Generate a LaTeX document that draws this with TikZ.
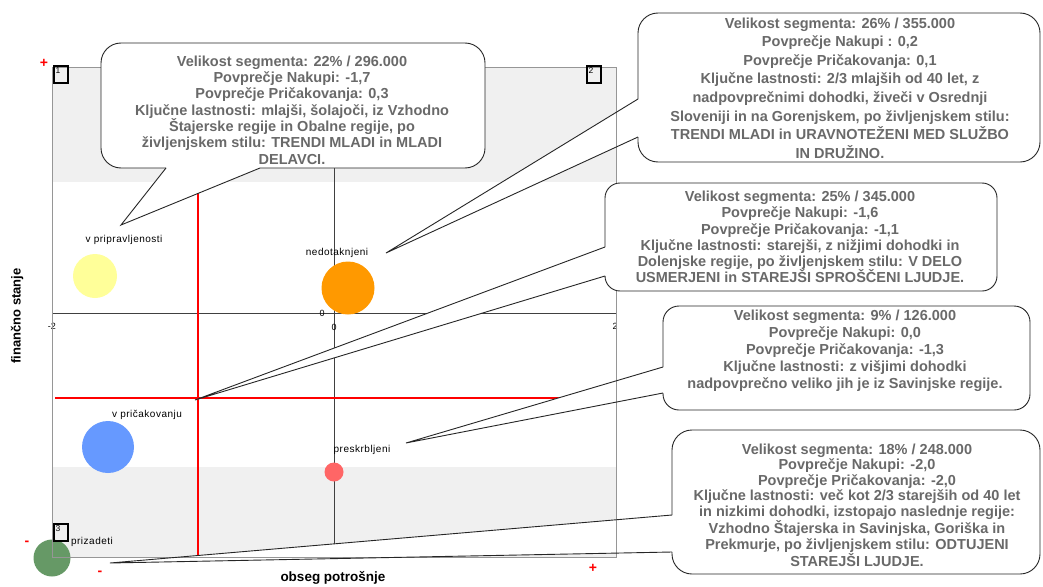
\documentclass[tikz,border=0pt]{standalone}
\usepackage{fontspec}
\setmainfont{Liberation Sans}
\newfontfamily\lblfont[LetterSpace=5]{Liberation Sans}
\definecolor{txtgray}{RGB}{105,105,105}
\definecolor{bandgray}{RGB}{240,240,240}
\definecolor{framegray}{RGB}{150,150,150}
\definecolor{cyel}{RGB}{255,255,153}
\definecolor{corg}{RGB}{255,153,0}
\definecolor{cblu}{RGB}{102,153,255}
\definecolor{cred}{RGB}{255,102,102}
\definecolor{cgrn}{RGB}{102,153,102}
\begin{document}
\begin{tikzpicture}[x=1pt,y=-1pt,
  cobody/.style={draw=black!85, line width=0.9pt},
  cotext/.style={text=txtgray, font=\bfseries\fontsize{14.5}{16.3}\selectfont, align=center, inner sep=0pt},
  lbl/.style={font=\lblfont\fontsize{10}{11}\selectfont, inner sep=0pt},
  ticklbl/.style={font=\fontsize{9}{9}\selectfont, inner sep=0pt},
  axtitle/.style={font=\bfseries\fontsize{13.5}{14}\selectfont, inner sep=0pt},
  sgn/.style={text=red, font=\bfseries\fontsize{14}{14}\selectfont, inner sep=0pt},
  numbox/.style={draw=black, line width=1.6pt, minimum width=14pt, minimum height=17pt, inner sep=0pt, anchor=north west},
  numtxt/.style={font=\fontsize{8.5}{8.5}\selectfont, inner sep=0pt, anchor=north west},
  redline/.style={draw=red, line width=2.2pt},
  axisline/.style={draw=black!75, line width=0.8pt},
  seg/.style={circle, inner sep=0pt, draw=none},
]
\useasboundingbox (0,0) rectangle (1043,586);
\fill[white] (0,0) rectangle (1043,586);

% plot area
\fill[bandgray] (52,67) rectangle (616,182);
\fill[bandgray] (52,467) rectangle (616,557);
\draw[axisline] (52,313) -- (616,313);
\draw[axisline] (334,67) -- (334,557);
\draw[redline] (198,170) -- (198,555);
\draw[redline] (55,398) -- (600,398);

% segments
\node[seg, fill=cyel, minimum size=44pt] (s1) at (95,276) {};
\node[seg, fill=corg, minimum size=53pt] (s2) at (348,288) {};
\node[seg, fill=cblu, minimum size=52pt] (s3) at (108,447) {};
\node[seg, fill=cred, minimum size=19pt] (s4) at (334,472) {};
\node[seg, fill=cgrn, minimum size=37pt] (s5) at (52,558) {};

\node[lbl] (l1) at (124,240) {v pripravljenosti};
\node[lbl] (l2) at (337,253) {nedotaknjeni};
\node[lbl] (l3) at (147,415) {v pričakovanju};
\node[lbl] (l4) at (362,450) {preskrbljeni};
\node[lbl] (l5) at (92,542) {prizadeti};

\node[ticklbl] (tx1) at (52,326) {-2};
\node[ticklbl] (tx2) at (334,327) {0};
\node[ticklbl] (tx3) at (615,326) {2};
\node[ticklbl] (ty0) at (322,313) {0};

\node[axtitle, rotate=90, font=\bfseries\fontsize{13}{14}\selectfont] (ya) at (17,316) {finančno stanje};
\node[axtitle] (xa) at (333,578) {obseg potrošnje};

\node[sgn] (p1) at (44,63) {+};
\node[sgn] (m1) at (27,543) {-};
\node[sgn] (m2) at (100,573) {-};
\node[sgn] (p2) at (593,568) {+};

% pointer fills
\coordinate (t1) at (121,225);
\coordinate (t2) at (386,253);
\coordinate (t3) at (195,400);
\coordinate (t4) at (406,443);
\coordinate (t5) at (110,563);
\fill[white] (166,168) -- (t1) -- (260,168) -- cycle;
\fill[white] (638,99) -- (t2) -- (638,137) -- cycle;
\fill[white] (605,247) -- (t3) -- (605,276) -- cycle;
\fill[white] (663,367) -- (t4) -- (663,393) -- cycle;
\fill[white] (672,515) -- (t5) -- (672,552) -- cycle;

% frame
\draw[framegray, line width=0.8pt] (52,67) rectangle (616,557);

% number boxes
\node[numbox] (b1) at (53,65) {};
\node[numtxt] at ([shift={(2.5pt,-2pt)}]b1.north west) {1};
\node[numbox] (b2) at (586,65) {};
\node[numtxt] at ([shift={(2.5pt,-2pt)}]b2.north west) {2};
\node[numbox] (b3) at (53,523) {};
\node[numtxt] at ([shift={(2.5pt,-2pt)}]b3.north west) {3};

% callout 1
\fill[white, rounded corners=20pt] (260,168) -- (485,168) -- (485,43) -- (101,43) -- (101,168) -- (166,168) -- cycle;
\draw[cobody, rounded corners=20pt] (260,168) -- (485,168) -- (485,43) -- (101,43) -- (101,168) -- (166,168);
\draw[cobody] (166,168) -- (t1) -- (260,168);
% callout 2
\fill[white, rounded corners=20pt] (638,99) -- (638,13) -- (1040,13) -- (1040,162) -- (638,162) -- (638,137) -- cycle;
\draw[cobody, rounded corners=20pt] (638,99) -- (638,13) -- (1040,13) -- (1040,162) -- (638,162) -- (638,137);
\draw[cobody] (638,99) -- (t2) -- (638,137);
% callout 3
\fill[white, rounded corners=15pt] (605,247) -- (605,183) -- (997,183) -- (997,291) -- (605,291) -- (605,276) -- cycle;
\draw[cobody, rounded corners=15pt] (605,247) -- (605,183) -- (997,183) -- (997,291) -- (605,291) -- (605,276);
\draw[cobody] (605,247) -- (t3) -- (605,276);
% callout 4
\fill[white, rounded corners=16pt] (663,367) -- (663,306) -- (1030,306) -- (1030,410) -- (663,410) -- (663,393) -- cycle;
\draw[cobody, rounded corners=16pt] (663,367) -- (663,306) -- (1030,306) -- (1030,410) -- (663,410) -- (663,393);
\draw[cobody] (663,367) -- (t4) -- (663,393);
% callout 5
\fill[white, rounded corners=20pt] (672,515) -- (672,430) -- (1040,430) -- (1040,574) -- (672,574) -- (672,552) -- cycle;
\draw[cobody, rounded corners=20pt] (672,515) -- (672,430) -- (1040,430) -- (1040,574) -- (672,574) -- (672,552);
\draw[cobody] (672,515) -- (t5) -- (672,552);

% callout texts
\node[cotext] (c1) at (292,110) {Velikost segmenta: 22\%  / 296.000\\Povprečje Nakupi: -1,7\\Povprečje Pričakovanja: 0,3\\Ključne lastnosti: mlajši, šolajoči, iz Vzhodno\\Štajerske regije in Obalne regije, po\\življenjskem stilu: TRENDI MLADI in MLADI\\DELAVCI.};
\node[cotext, font=\bfseries\fontsize{14.5}{18.6}\selectfont] (c2) at (840,88) {Velikost segmenta: 26\% / 355.000\\Povprečje Nakupi : 0,2\\Povprečje Pričakovanja: 0,1\\Ključne lastnosti: 2/3 mlajših od 40 let, z\\nadpovprečnimi dohodki, živeči v Osrednji\\Sloveniji in na Gorenjskem, po življenjskem stilu:\\TRENDI MLADI in URAVNOTEŽENI MED SLUŽBO\\IN DRUŽINO.};
\node[cotext, font=\bfseries\fontsize{14.5}{16.2}\selectfont] (c3) at (800,237) {Velikost segmenta: 25\% / 345.000\\Povprečje Nakupi: -1,6\\Povprečje Pričakovanja: -1,1\\Ključne lastnosti: starejši, z nižjimi dohodki in\\Dolenjske regije, po življenjskem stilu: V DELO\\USMERJENI in STAREJŠI SPROŠČENI LJUDJE.};
\node[cotext, font=\bfseries\fontsize{14.5}{17}\selectfont] (c4) at (845,351) {Velikost segmenta: 9\% / 126.000\\Povprečje Nakupi: 0,0\\Povprečje Pričakovanja: -1,3\\Ključne lastnosti: z višjimi dohodki\\nadpovprečno veliko jih je iz Savinjske regije.};
\node[cotext, font=\bfseries\fontsize{14.5}{15.6}\selectfont] (c5) at (857,505) {Velikost segmenta: 18\% / 248.000\\Povprečje Nakupi: -2,0\\Povprečje Pričakovanja: -2,0\\Ključne lastnosti: več kot 2/3 starejših od 40 let\\in nizkimi dohodki, izstopajo naslednje regije:\\Vzhodno Štajerska in Savinjska, Goriška in\\Prekmurje, po življenjskem stilu: ODTUJENI\\STAREJŠI LJUDJE.};
\end{tikzpicture}
\end{document}
